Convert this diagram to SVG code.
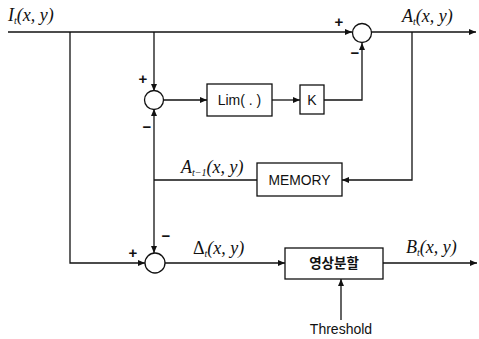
<svg xmlns="http://www.w3.org/2000/svg" width="479" height="339" viewBox="0 0 479 339">
<style>
.ln{fill:none;stroke:#111;stroke-width:1.3}
.bx{fill:#fff;stroke:#111;stroke-width:1.3}
.math{font-family:"Liberation Serif",serif;font-style:italic;font-size:18px;fill:#111}
.sub{font-size:10px}
.lbl{font-family:"Liberation Sans",Arial,sans-serif;font-size:14px;fill:#111;text-anchor:middle}
.kr{font-family:"Noto Sans CJK KR",sans-serif;font-size:13.5px;fill:#111;text-anchor:middle;font-weight:bold}
.sg{font-family:"Liberation Sans",Arial,sans-serif;font-size:15px;fill:#111;text-anchor:middle;font-weight:bold}
</style>
<defs>
<marker id="ah" markerWidth="7" markerHeight="6" refX="7" refY="3" orient="auto" markerUnits="userSpaceOnUse">
<path d="M0,0 L7,3 L0,6 Z" fill="#111"/>
</marker>
</defs>
<g id="connectors">
<line class="ln" x1="8" y1="32" x2="352" y2="32" marker-end="url(#ah)"/>
<line class="ln" x1="154" y1="32" x2="154" y2="91" marker-end="url(#ah)"/>
<line class="ln" x1="163" y1="100" x2="207" y2="100" marker-end="url(#ah)"/>
<line class="ln" x1="272" y1="100" x2="300" y2="100" marker-end="url(#ah)"/>
<polyline class="ln" points="324,100 362,100 362,43" marker-end="url(#ah)"/>
<line class="ln" x1="371" y1="32" x2="476" y2="32" marker-end="url(#ah)"/>
<polyline class="ln" points="412,32 412,180 342,180" marker-end="url(#ah)"/>
<line class="ln" x1="257" y1="180" x2="154" y2="180"/>
<line class="ln" x1="154" y1="180" x2="154" y2="109" marker-end="url(#ah)"/>
<line class="ln" x1="154" y1="180" x2="154" y2="253" marker-end="url(#ah)"/>
<polyline class="ln" points="70,32 70,263 145,263" marker-end="url(#ah)"/>
<line class="ln" x1="164" y1="263" x2="285" y2="263" marker-end="url(#ah)"/>
<line class="ln" x1="383" y1="263" x2="477" y2="263" marker-end="url(#ah)"/>
<line class="ln" x1="341" y1="320" x2="341" y2="279" marker-end="url(#ah)"/>
</g>
<g id="sum1">
<circle class="bx" cx="154" cy="100" r="9.5"/>
<text class="sg" x="143" y="84">+</text>
<text class="sg" x="147" y="132">−</text>
</g>
<g id="sum2">
<circle class="bx" cx="362" cy="33" r="9.5"/>
<text class="sg" x="339" y="27">+</text>
<text class="sg" x="355" y="58">−</text>
</g>
<g id="sum3">
<circle class="bx" cx="155" cy="263" r="10"/>
<text class="sg" x="133" y="258">+</text>
<text class="sg" x="166" y="241">−</text>
</g>
<g id="lim">
<rect class="bx" x="207" y="84" width="65" height="32"/>
<text class="lbl" x="239.5" y="105">Lim( . )</text>
</g>
<g id="k">
<rect class="bx" x="300" y="85" width="24" height="29"/>
<text class="lbl" x="312" y="105">K</text>
</g>
<g id="memory">
<rect class="bx" x="257" y="163" width="85" height="33"/>
<text class="lbl" x="299.5" y="185" textLength="62" lengthAdjust="spacingAndGlyphs">MEMORY</text>
</g>
<g id="segment">
<rect class="bx" x="285" y="248" width="98" height="31"/>
<text class="kr" x="334" y="268">영상분할</text>
</g>
<g id="threshold">
<text class="lbl" x="341" y="334">Threshold</text>
</g>
<g id="labels">
<text class="math" x="8" y="21">I<tspan class="sub" dy="3">t</tspan><tspan dy="-3">(x, y)</tspan></text>
<text class="math" x="402" y="22">A<tspan class="sub" dy="3">t</tspan><tspan dy="-3">(x, y)</tspan></text>
<text class="math" x="181" y="173">A<tspan class="sub" dy="3">t−1</tspan><tspan dy="-3">(x, y)</tspan></text>
<text class="math" x="193" y="254"><tspan font-style="normal">Δ</tspan><tspan class="sub" dy="3">t</tspan><tspan dy="-3">(x, y)</tspan></text>
<text class="math" x="406" y="253">B<tspan class="sub" dy="3">t</tspan><tspan dy="-3">(x, y)</tspan></text>
</g>
</svg>
